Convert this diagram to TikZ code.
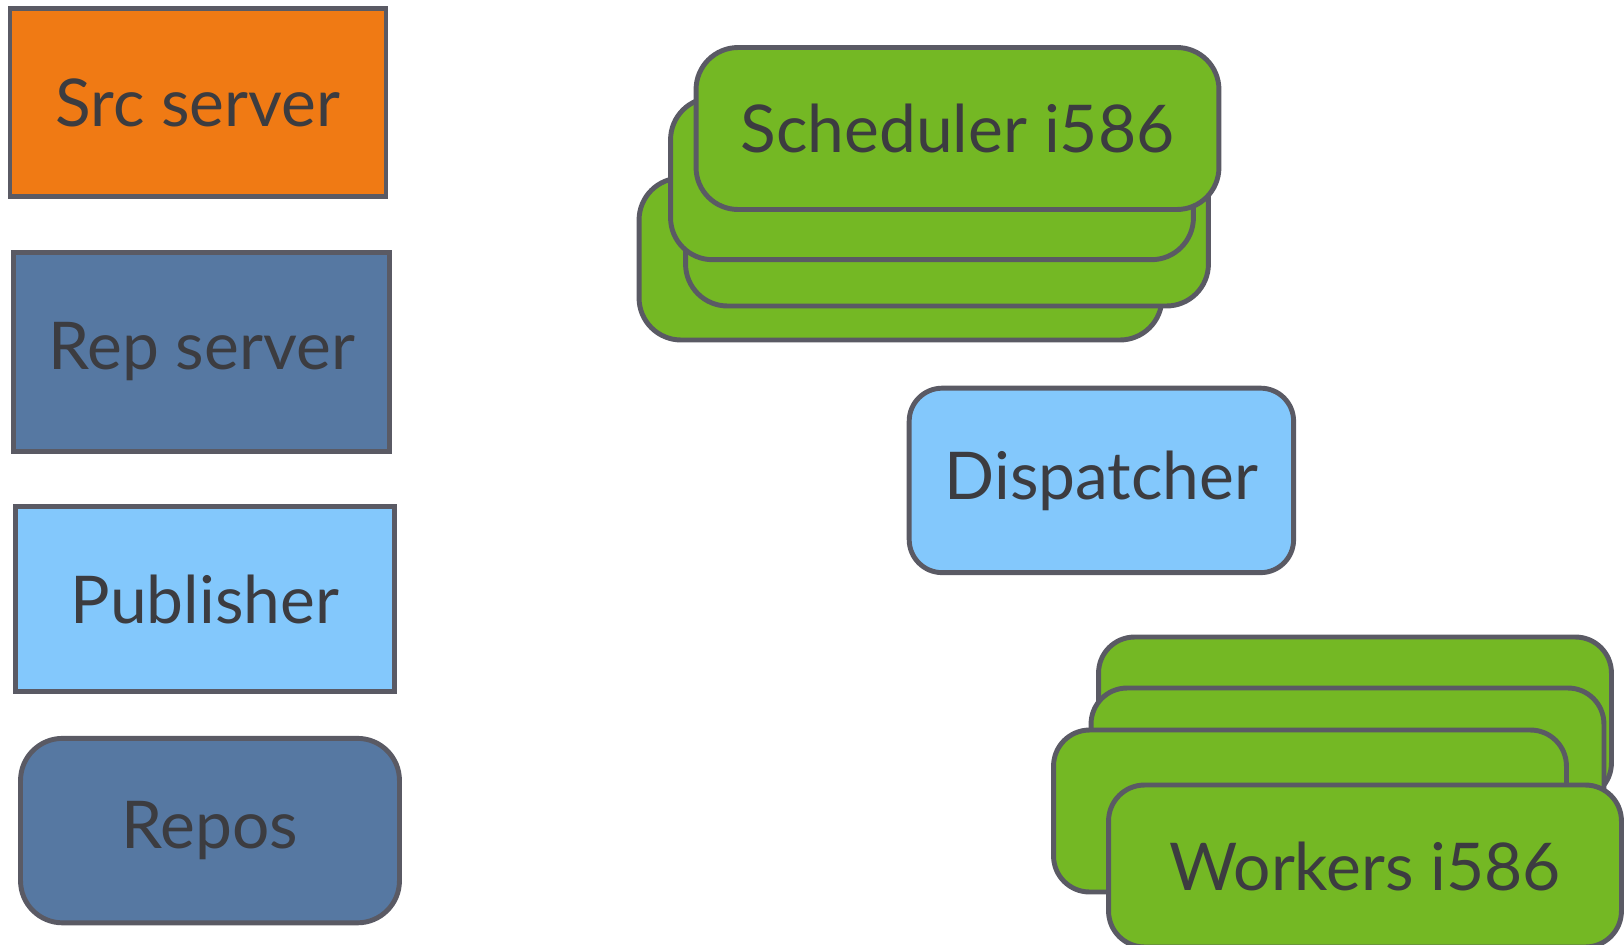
\documentclass[tikz,border=0pt]{standalone}
\usepackage{fontspec}
\setmainfont{Lato}
\usetikzlibrary{positioning}
\definecolor{srcorange}{RGB}{240,122,20}
\definecolor{repblue}{RGB}{86,120,162}
\definecolor{pubblue}{RGB}{131,200,252}
\definecolor{archgreen}{RGB}{116,184,36}
\definecolor{edgegray}{RGB}{90,90,100}
\definecolor{txtgray}{RGB}{60,60,64}
\tikzset{mybox/.style args = {(#1,#2,#3)}{%
		draw=edgegray, line width=2.8pt, fill=#1, minimum width=#2,
		minimum height=#3, text=txtgray, inner sep=0pt,
		font=\fontsize{37.5}{40}\selectfont}}
\tikzset{schedbox/.style = {mybox={(archgreen,10.46cm,3.24cm)}, rounded corners=0.84cm}}
\tikzset{workerbox/.style = {mybox={(archgreen,10.26cm,3.24cm)}, rounded corners=0.72cm}}

\begin{document}
\begin{tikzpicture}[x=0.02cm, y=-0.02cm]
	\useasboundingbox (0,0) rectangle (1624,944);
	% left column
	\node[mybox={(srcorange,7.52cm,3.77cm)}] (src) at (198,102.5) {Src server};
	\node[mybox={(repblue,7.52cm,3.98cm)}] (rep) at (201.5,352) {Rep server};
	\node[mybox={(pubblue,7.58cm,3.71cm)}] (pub) at (205,599) {Publisher};
	\node[mybox={(repblue,7.58cm,3.69cm)}, rounded corners=0.84cm] (repos) at (210,830.6) {Repos};
	
	% scheduler stack
	\node[schedbox] (sched-a) at (900.5,259) {};
	\node[schedbox] (sched-b) at (947,225) {};
	\node[schedbox] (sched-c) at (932,178.7) {};
	\node[schedbox] (sched) at (957.5,128.5) {Scheduler i586};
	
	\node[mybox={(pubblue,7.69cm,3.69cm)}, rounded corners=0.66cm] (disp) at (1101.4,480.4) {Dispatcher};
	
	% workers stack
	\node[workerbox] (workers-a) at (1355,718) {};
	\node[workerbox] (workers-b) at (1347.5,769) {};
	\node[workerbox] (workers-c) at (1310,811) {};
	\node[workerbox] (workers) at (1365,866) {Workers i586};
\end{tikzpicture}
\end{document}
